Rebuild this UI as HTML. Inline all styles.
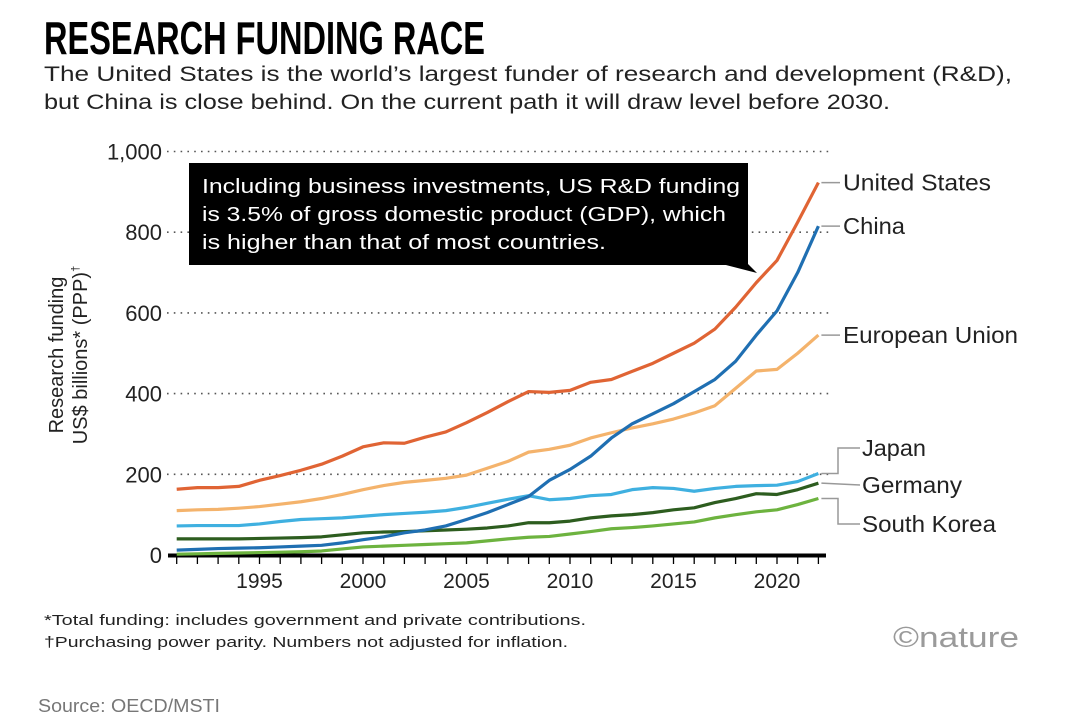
<!DOCTYPE html>
<html><head><meta charset="utf-8"><style>
body{margin:0;background:#fff;}
svg{display:block;font-family:"Liberation Sans",sans-serif;}
</style></head><body>
<svg id="chart" width="1084" height="722" viewBox="0 0 1084 722" xmlns="http://www.w3.org/2000/svg">
<text x="44" y="54" font-family="Liberation Sans Narrow, Liberation Sans, sans-serif" font-weight="bold" font-size="46" textLength="441" lengthAdjust="spacingAndGlyphs" fill="#000">RESEARCH FUNDING RACE</text>
<text x="44" y="81" font-size="21" textLength="968" lengthAdjust="spacingAndGlyphs" fill="#222">The United States is the world’s largest funder of research and development (R&amp;D),</text>
<text x="44" y="109" font-size="21" textLength="846" lengthAdjust="spacingAndGlyphs" fill="#222">but China is close behind. On the current path it will draw level before 2030.</text>
<g id="grid"></g>
<g id="yticks"></g>
<g id="xaxis"></g>
<text transform="translate(63,355) rotate(-90)" text-anchor="middle" font-size="20" fill="#222">Research funding</text>
<text transform="translate(87,355) rotate(-90)" text-anchor="middle" font-size="20" fill="#222">US$ billions* (PPP)<tspan font-size="11" dy="-8">†</tspan></text>
<g id="lines"></g>
<g id="labels"></g>
<g>
<rect x="189" y="163" width="559" height="102" fill="#000"/>
<polygon points="722,264 748,264 757,273" fill="#000"/>
<text x="202" y="193" font-size="20" fill="#fff" textLength="538" lengthAdjust="spacingAndGlyphs">Including business investments, US R&amp;D funding</text>
<text x="202" y="221" font-size="20" fill="#fff" textLength="524" lengthAdjust="spacingAndGlyphs">is 3.5% of gross domestic product (GDP), which</text>
<text x="202" y="249" font-size="20" fill="#fff" textLength="404" lengthAdjust="spacingAndGlyphs">is higher than that of most countries.</text>
</g>
<text x="44" y="625" font-size="15" fill="#222" textLength="542" lengthAdjust="spacingAndGlyphs">*Total funding: includes government and private contributions.</text>
<text x="44" y="647" font-size="15" fill="#222" textLength="524" lengthAdjust="spacingAndGlyphs">†Purchasing power parity. Numbers not adjusted for inflation.</text>
<text x="893" y="647" font-size="29" fill="#9a9a9a" textLength="126" lengthAdjust="spacingAndGlyphs">©nature</text>
<text x="38" y="712" font-size="18" fill="#777" textLength="182" lengthAdjust="spacingAndGlyphs">Source: OECD/MSTI</text>
</svg>
<script>
const years = [1991,1992,1993,1994,1995,1996,1997,1998,1999,2000,2001,2002,2003,2004,2005,2006,2007,2008,2009,2010,2011,2012,2013,2014,2015,2016,2017,2018,2019,2020,2021,2022];
const usValues = [163,167,167,170,185,197,210,225,245,268,278,277,292,305,328,353,380,405,403,408,428,435,455,475,500,525,560,614,675,730,825,923];
const chinaValues = [12,14,16,17,18,20,22,24,30,38,45,55,62,72,88,105,125,145,185,212,245,290,325,350,375,405,435,480,545,605,700,815];
const euValues = [110,112,113,116,120,126,132,140,150,162,172,180,185,190,198,215,232,255,262,272,290,303,315,325,337,352,370,413,456,460,500,545];
const japanValues = [72,73,73,73,77,83,88,90,92,96,100,103,106,110,118,128,138,147,137,140,147,150,162,167,165,158,165,170,172,173,182,202];
const germanyValues = [40,40,40,40,41,42,43,45,50,55,57,58,60,62,64,67,72,80,80,84,92,97,100,105,112,117,130,140,152,150,162,178];
const koreaValues = [2,3,4,5,6,7,8,10,15,20,22,24,26,28,30,35,40,44,46,52,58,65,68,72,77,82,92,100,107,112,125,140];
const yTickValues = [0,200,400,600,800,1000];
const yTickLabels = ["0","200","400","600","800","1,000"];
const xLabelYears = [1995,2000,2005,2010,2015,2020];

const NS="http://www.w3.org/2000/svg";
const X = yr => 176.7 + (yr-1991)*20.7;
const Y = v => 555 - v*0.4035;
function mk(tag, attrs, parent){const e=document.createElementNS(NS,tag);for(const k in attrs)e.setAttribute(k,attrs[k]);parent.appendChild(e);return e;}
const grid=document.getElementById('grid'), yt=document.getElementById('yticks'), xa=document.getElementById('xaxis');
yTickValues.forEach((v,i)=>{
  if(v>0){const g=mk('line',{x1:167,x2:830,y1:Y(v),y2:Y(v),stroke:'#555','stroke-width':1.6,'stroke-dasharray':'1.6 5.2'},grid);
  
  }
  const t=mk('text',{x:162,y:Y(v)+8,'text-anchor':'end','font-size':22,fill:'#222'},yt);
  
  
  t.textContent=yTickLabels[i];
});
const ax=mk('line',{x1:168,x2:826,y1:555.5,y2:555.5,stroke:'#000','stroke-width':4},xa);


years.forEach(yr=>{
  const tk=mk('line',{x1:X(yr),x2:X(yr),y1:555,y2:564,stroke:'#000','stroke-width':1.3},xa);
  
  
});
xLabelYears.forEach(yr=>{
  const t=mk('text',{x:X(yr),y:588,'text-anchor':'middle','font-size':21,fill:'#222'},xa);
  
  
  t.textContent=yr;
});
const series=[
 ['germany',germanyValues,'#2d5d1f'],['korea',koreaValues,'#6db33f'],['japan',japanValues,'#3fb0e0'],
 ['eu',euValues,'#f4b36c'],['china',chinaValues,'#1f6fb2'],['us',usValues,'#e06434']];
const lg=document.getElementById('lines');
series.forEach(s=>{
  const p=mk('polyline',{points:years.map((yr,i)=>X(yr)+','+Y(s[1][i])).join(' '),fill:'none',stroke:s[2],'stroke-width':3.2,'stroke-linejoin':'round'},lg);
  
  
});
const lb=document.getElementById('labels');
const last=years.length-1, ex=X(years[last]);
const labelDefs=[['United States',usValues,843,Y(usValues[last]),0,148],['China',chinaValues,843,Y(chinaValues[last]),0,62],['European Union',euValues,843,Y(euValues[last]),0,175],
 ['Japan',japanValues,862,448,1,64],['Germany',germanyValues,862,485,1,100],['South Korea',koreaValues,862,524,1,134]];
labelDefs.forEach(d=>{
  const vy=Y(d[1][last]);
  let pts;
  if(d[4]) pts=`${ex+3},${vy} 838,${vy} 838,${d[3]} ${d[2]-2},${d[3]}`; else pts=`${ex+3},${vy} ${d[2]-3},${vy}`;
  if(d[0]==='Germany') pts=`${ex+3},${vy} ${d[2]-2},${d[3]}`;
  const c=mk('polyline',{points:pts,fill:'none',stroke:'#999','stroke-width':1.5},lb);
  
  
  const t=mk('text',{x:d[2],y:d[3]+8,'font-size':23,fill:'#222',textLength:d[5],lengthAdjust:'spacingAndGlyphs'},lb);
  
  
  t.textContent=d[0];
});
</script>
</body></html>
